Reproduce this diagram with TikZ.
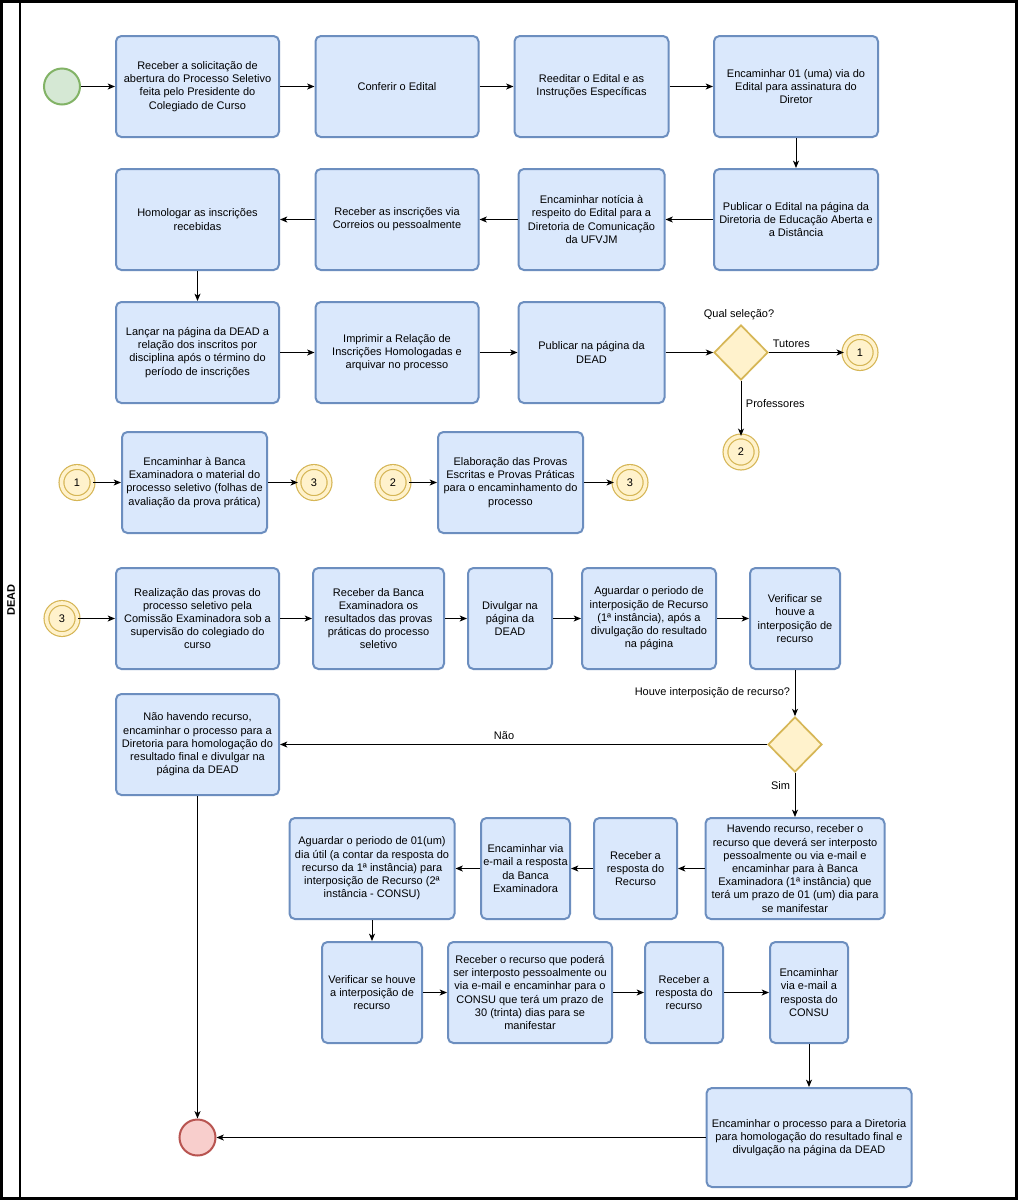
\documentclass[tikz,border=0pt]{standalone}
\usepackage{fontspec}
\setmainfont{Liberation Sans}
\usetikzlibrary{arrows.meta,shapes.geometric}
\definecolor{TF}{RGB}{218,232,252}
\definecolor{TB}{RGB}{108,142,191}
\definecolor{IF}{RGB}{213,232,212}
\definecolor{IB}{RGB}{130,179,102}
\definecolor{FF}{RGB}{248,206,204}
\definecolor{FB}{RGB}{184,84,80}
\definecolor{EF}{RGB}{255,242,204}
\definecolor{EB}{RGB}{214,182,86}

\begin{document}
\begin{tikzpicture}[x=0.75pt, y=-0.75pt,
    font=\fontsize{8.25}{9.9}\selectfont,
    tarefa/.style={draw=TB, fill=TF, line width=1.5pt, rounded corners=4pt,
      minimum width=#1*0.75pt, minimum height=75.75pt, align=center, inner sep=0pt},
    inicio/.style={circle, draw=IB, fill=IF, line width=1.5pt, minimum size=27pt, inner sep=0pt},
    fim/.style={circle, draw=FB, fill=FF, line width=1.5pt, minimum size=27pt, inner sep=0pt},
    link/.style={circle, draw=EB, fill=EF, line width=0.9pt, double=EF, double distance=2.7pt,
      minimum size=23.3pt, inner sep=0pt},
    porta/.style={diamond, draw=EB, fill=EF, line width=1.3pt, minimum width=40.5pt,
      minimum height=41.25pt, inner sep=0pt},
    seta/.style={draw=black, line width=0.75pt, -{Stealth[length=5.5pt,width=4.5pt,inset=1.5pt]}}]
      \useasboundingbox (0,0) rectangle (1018,1200);
      \draw[line width=2.25pt, fill=white] (1.5,1.5) rectangle (1016.5,1198.5);
      \draw[line width=1.5pt] (19.5,1.5) -- (19.5,1198.5);
      \node[rotate=90, font=\fontsize{8.25}{9.9}\selectfont\bfseries] (lane) at (11,600) {DEAD};

      \node[inicio] (ini) at (62,86.5) {};
      \node[tarefa=163] (a1) at (197.5,86.5) {Receber a solicitação de\\abertura do Processo Seletivo\\feita pelo Presidente do\\Colegiado de Curso};
      \node[tarefa=163] (a2) at (397,86.5) {Conferir o Edital};
      \node[tarefa=154] (a3) at (591.5,86.5) {Reeditar o Edital e as\\Instruções Específicas};
      \node[tarefa=164] (a4) at (796,86.5) {Encaminhar 01 (uma) via do\\Edital para assinatura do\\Diretor};

      \node[tarefa=164] (b4) at (796,219.5) {Publicar o Edital na página da\\Diretoria de Educação Aberta e\\a Distância};
      \node[tarefa=146] (b3) at (591.5,219.5) {Encaminhar notícia à\\respeito do Edital para a\\Diretoria de Comunicação\\da UFVJM};
      \node[tarefa=163] (b2) at (397,219.5) {Receber as inscrições via\\Correios ou pessoalmente};
      \node[tarefa=163] (b1) at (197.5,219.5) {Homologar as inscrições\\recebidas};

      \node[tarefa=163] (c1) at (197.5,352.5) {Lançar na página da DEAD a\\relação dos inscritos por\\disciplina após o término do\\período de inscrições};
      \node[tarefa=163] (c2) at (397,352.5) {Imprimir a Relação de\\Inscrições Homologadas e\\arquivar no processo};
      \node[tarefa=146] (c3) at (591.5,352.5) {Publicar na página da\\DEAD};
      \node[porta] (sel) at (741,352.5) {};
      \node (qsel) at (739,315) {Qual seleção?};
      \node[link] (tut) at (860,352.5) {1};
      \node[link] (prof) at (741,452) {2};

      \node[link] (tut2) at (77,482.5) {1};
      \node[tarefa=145] (d1) at (194.5,482.5) {Encaminhar à Banca\\Examinadora o material do\\processo seletivo (folhas de\\avaliação da prova prática)};
      \node[link] (prova1) at (314,482.5) {3};
      \node[link] (prof2) at (393,482.5) {2};
      \node[tarefa=145] (d2) at (510.5,482.5) {Elaboração das Provas\\Escritas e Provas Práticas\\para o encaminhamento do\\processo};
      \node[link] (prova2) at (630,482.5) {3};

      \node[link] (prova3) at (62,618.5) {3};
      \node[tarefa=163] (e1) at (197.5,618.5) {Realização das provas do\\processo seletivo pela\\Comissão Examinadora sob a\\supervisão do colegiado do\\curso};
      \node[tarefa=131] (e2) at (378.5,618.5) {Receber da Banca\\Examinadora os\\resultados das provas\\práticas do processo\\seletivo};
      \node[tarefa=84] (e3) at (510,618.5) {Divulgar na\\página da\\DEAD};
      \node[tarefa=134] (e4) at (649,618.5) {Aguardar o periodo de\\interposição de Recurso\\(1ª instância), após a\\divulgação do resultado\\na página};
      \node[tarefa=90] (e5) at (795,618.5) {Verificar se\\houve a\\interposição de\\recurso};

      \node[porta] (rec) at (795,744.5) {};
      \node[tarefa=163] (f1) at (197.5,744.5) {Não havendo recurso,\\encaminhar o processo para a\\Diretoria para homologação do\\resultado final e divulgar na\\página da DEAD};

      \node[tarefa=179] (g1) at (795,868.5) {Havendo recurso, receber o\\recurso que deverá ser interposto\\pessoalmente ou via e-mail e\\encaminhar para à Banca\\Examinadora (1ª instância) que\\terá um prazo de 01 (um) dia para\\se manifestar};
      \node[tarefa=83] (g2) at (635.5,868.5) {Receber a\\resposta do\\Recurso};
      \node[tarefa=89] (g3) at (525.5,868.5) {Encaminhar via\\e-mail a resposta\\da Banca\\Examinadora};
      \node[tarefa=165] (g4) at (372,868.5) {Aguardar o periodo de 01(um)\\dia útil (a contar da resposta do\\recurso da 1ª instância) para\\interposição de Recurso (2ª\\instância - CONSU)};

      \node[tarefa=100] (h1) at (372,992.5) {Verificar se houve\\a interposição de\\recurso};
      \node[tarefa=164] (h2) at (530,992.5) {Receber o recurso que poderá\\ser interposto pessoalmente ou\\via e-mail e encaminhar para o\\CONSU que terá um prazo de\\30 (trinta) dias para se\\manifestar};
      \node[tarefa=78] (h3) at (684,992.5) {Receber a\\resposta do\\recurso};
      \node[tarefa=78] (h4) at (809,992.5) {Encaminhar\\via e-mail a\\resposta do\\CONSU};

      \node[tarefa=205, minimum height=74.25pt] (i1) at (809,1137.5) {Encaminhar o processo para a Diretoria\\para homologação do resultado final e\\divulgação na página da DEAD};
      \node[fim] (fim) at (197.5,1137.5) {};

      \draw[seta] (ini) -- (a1);
      \draw[seta] (a1) -- (a2);
      \draw[seta] (a2) -- (a3);
      \draw[seta] (a3) -- (a4);
      \draw[seta] (a4) -- (b4);
      \draw[seta] (b4) -- (b3);
      \draw[seta] (b3) -- (b2);
      \draw[seta] (b2) -- (b1);
      \draw[seta] (b1) -- (c1);
      \draw[seta] (c1) -- (c2);
      \draw[seta] (c2) -- (c3);
      \draw[seta] (c3) -- (sel);
      \draw[seta] (sel) -- node[above, pos=0.3] (ntut) {Tutores} (tut);
      \draw[seta] (sel) -- node[right, pos=0.42] (nprof) {Professores} (prof);
      \draw[seta] (tut2) -- (d1);
      \draw[seta] (d1) -- (prova1);
      \draw[seta] (prof2) -- (d2);
      \draw[seta] (d2) -- (prova2);
      \draw[seta] (prova3) -- (e1);
      \draw[seta] (e1) -- (e2);
      \draw[seta] (e2) -- (e3);
      \draw[seta] (e3) -- (e4);
      \draw[seta] (e4) -- (e5);
      \draw[seta] (e5) -- node[left, pos=0.5] (nhouve) {Houve interposição de recurso?} (rec);
      \draw[seta] (rec) -- node[above, pos=0.54] (nnao) {Não} (f1);
      \draw[seta] (rec) -- node[left, pos=0.28] (nsim) {Sim} (g1);
      \draw[seta] (g1) -- (g2);
      \draw[seta] (g2) -- (g3);
      \draw[seta] (g3) -- (g4);
      \draw[seta] (g4) -- (h1);
      \draw[seta] (h1) -- (h2);
      \draw[seta] (h2) -- (h3);
      \draw[seta] (h3) -- (h4);
      \draw[seta] (h4) -- (i1);
      \draw[seta] (i1) -- (fim);
      \draw[seta] (f1) -- (fim);
    \end{tikzpicture}
\end{document}
